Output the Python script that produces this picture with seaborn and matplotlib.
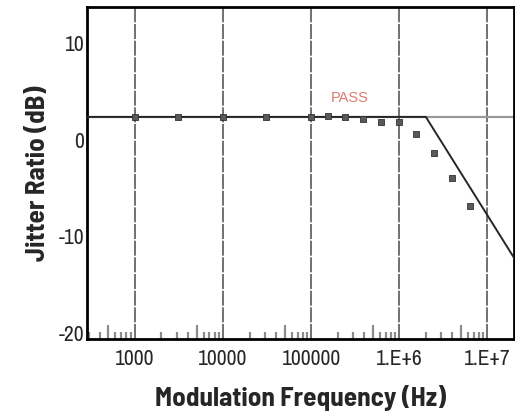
import numpy as np
import pandas as pd
import matplotlib
matplotlib.use("Agg")
import matplotlib.pyplot as plt
import matplotlib.ticker as mticker
import seaborn as sns

# measured jitter tolerance points
freq_hz = [1000, 3100, 10000, 31000, 100000, 155000, 245000, 390000, 620000,
           1000000, 1550000, 2500000, 4000000, 6300000]
ratio_db = [2.38, 2.35, 2.35, 2.35, 2.35, 2.45, 2.32, 2.14, 1.86,
            1.86, 0.56, -1.35, -3.93, -6.82]

# pass mask (flat then roll-off)
mask_freq = [286, 2000000, 20000000]
mask_db = [2.35, 2.35, -12.2]
pass_level = 2.35

x_ticks = [1000, 10000, 100000, 1000000, 10000000]
x_labels = ["1000", "10000", "100000", "1.E+6", "1.E+7"]
y_ticks = [-20, -10, 0, 10]

sns.set_style("white")
plt.rcParams['font.family'] = ['Archivo Narrow', 'Barlow Condensed', 'Liberation Sans', 'DejaVu Sans']
plt.rcParams['axes.unicode_minus'] = False
label_font = ['Barlow Semi Condensed', 'Barlow Condensed', 'Liberation Sans', 'DejaVu Sans']

fig = plt.figure(figsize=(5.15, 4.17), dpi=100)
ax = fig.add_axes([0.169, 0.187, 0.829, 0.796])

df_pts = pd.DataFrame({"freq": freq_hz, "db": ratio_db})
df_mask = pd.DataFrame({"freq": mask_freq, "db": mask_db})

ax.set_xscale("log")
ax.set_xlim(286, 2.0e7)
ax.set_ylim(-20.6, 13.7)

# decade grid lines
for xt in x_ticks:
    ax.axvline(xt, color="0.35", lw=1.2, ls=(0, (9, 1)), zorder=1)
ax.axhline(pass_level, color="0.6", lw=1.6, zorder=1)

sns.lineplot(data=df_mask, x="freq", y="db", ax=ax, color="0.15", lw=1.4, zorder=3)
sns.scatterplot(data=df_pts, x="freq", y="db", ax=ax, marker="s", s=14,
                color="0.35", edgecolor="0.2", linewidth=0.6, zorder=4)

ax.text(2.7e5, 4.3, "PASS", color="#e07a70", fontsize=10.5, ha="center", va="center",
        family=['Liberation Sans', 'DejaVu Sans'])

ax.set_xticks(x_ticks)
ax.set_xticklabels(x_labels)
ax.set_yticks(y_ticks)
ax.xaxis.set_minor_locator(mticker.NullLocator())
ax.yaxis.set_minor_locator(mticker.MultipleLocator(2))
ax.tick_params(axis="x", which="major", length=0, labelsize=15.5, pad=7)
ax.tick_params(axis="y", which="major", direction="in", length=4, width=1.2, labelsize=15.5, pad=2)
ax.tick_params(axis="y", which="minor", direction="in", length=2.5, width=1.2, color="0.4")

# short minor bars at 2,3,4,6,7,8,9 x decade, taller one at 5 x decade
decades = np.array([100, 1000, 10000, 100000, 1000000])
short_ticks = np.outer(decades, [2, 3, 4, 6, 7, 8, 9]).ravel()
tall_ticks = decades * 5

sec1 = ax.secondary_xaxis("bottom")
sec1.set_xticks(short_ticks)
sec1.xaxis.set_minor_locator(mticker.NullLocator())
sec1.set_xticklabels([])
sec1.tick_params(direction="in", length=5, width=1.6, color="0.55")
sec1.spines["bottom"].set_visible(False)

sec2 = ax.secondary_xaxis("bottom")
sec2.set_xticks(tall_ticks)
sec2.xaxis.set_minor_locator(mticker.NullLocator())
sec2.set_xticklabels([])
sec2.tick_params(direction="in", length=10, width=1.6, color="0.55")
sec2.spines["bottom"].set_visible(False)

for sp in ax.spines.values():
    sp.set_color("black")
    sp.set_linewidth(2)

ax.set_xlabel("Modulation Frequency (Hz)", fontsize=19.5, fontweight="bold", labelpad=12,
              family=label_font)
ax.set_ylabel("Jitter Ratio (dB)", fontsize=19.5, fontweight="bold", labelpad=6,
              family=label_font)

fig.savefig("out.png", dpi=100)
